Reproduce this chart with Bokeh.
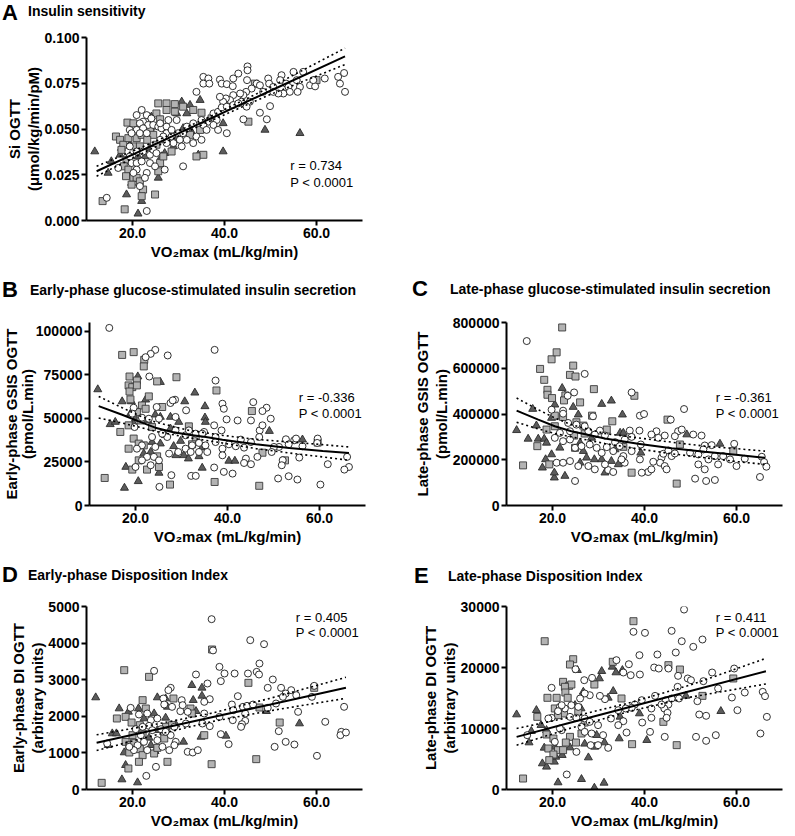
from bokeh.plotting import figure
from bokeh.models import Range1d, FixedTicker, PrintfTickFormatter, Label, Title, Div
from bokeh.layouts import column, row
from bokeh.embed import file_html
from bokeh.resources import INLINE

FONT = "Liberation Sans"

# ---------------- data ----------------
X_TICKS = [20, 40, 60]
X_LABEL = "VO₂max (mL/kg/min)"

# Panel A: insulin sensitivity  (x = VO2max, y = Si OGTT)
A_open = [(45.0, 0.0842), (45.0, 0.0821), (43.0, 0.0803), (41.9, 0.0776), (35.4, 0.0785), (36.5, 0.0776),
          (35.4, 0.0748), (36.7, 0.0748), (39.0, 0.0770), (39.4, 0.0748), (40.5, 0.0745), (41.8, 0.0734),
          (44.9, 0.0767), (47.0, 0.0748), (47.7, 0.0739), (49.5, 0.0776), (49.7, 0.0748), (50.6, 0.0730),
          (52.4, 0.0794), (52.1, 0.0767), (53.4, 0.0748), (53.9, 0.0730), (55.0, 0.0812), (57.1, 0.0812),
          (55.7, 0.0767), (56.4, 0.0730), (55.9, 0.0703), (54.2, 0.0703), (52.8, 0.0694), (51.7, 0.0694),
          (50.6, 0.0703), (48.4, 0.0703), (45.9, 0.0721), (44.7, 0.0703), (44.1, 0.0685), (43.4, 0.0694),
          (41.9, 0.0685), (41.2, 0.0658), (40.3, 0.0667), (39.7, 0.0649), (39.0, 0.0676), (43.7, 0.0649),
          (45.5, 0.0649), (49.9, 0.0625), (47.7, 0.0589), (49.2, 0.0553), (44.1, 0.0553), (40.5, 0.0477),
          (33.9, 0.0703), (37.6, 0.0585), (38.3, 0.0549), (36.5, 0.0540), (35.4, 0.0522), (38.6, 0.0594),
          (39.4, 0.0618), (40.5, 0.0622), (41.9, 0.0631), (43.0, 0.0640), (44.8, 0.0622), (58.6, 0.0739),
          (59.7, 0.0733), (61.8, 0.0776), (64.7, 0.0785), (66.0, 0.0806), (65.1, 0.0748), (66.2, 0.0703),
          (59.3, 0.0767), (31.0, 0.0296), (23.1, 0.0052), (14.4, 0.0124), (22.0, 0.0604), (20.9, 0.0576),
          (23.1, 0.0576), (24.1, 0.0558), (22.3, 0.0540), (21.6, 0.0531), (23.4, 0.0522), (19.4, 0.0495),
          (20.9, 0.0495), (22.3, 0.0504), (19.8, 0.0477), (21.6, 0.0477), (23.1, 0.0477), (24.5, 0.0522),
          (25.6, 0.0513), (26.3, 0.0504), (27.4, 0.0513), (27.4, 0.0477), (28.5, 0.0495), (28.5, 0.0459),
          (29.9, 0.0477), (31.0, 0.0477), (30.3, 0.0441), (31.8, 0.0441), (30.7, 0.0405), (28.9, 0.0423),
          (27.4, 0.0423), (26.7, 0.0459), (26.0, 0.0441), (19.4, 0.0405), (20.9, 0.0377), (22.3, 0.0377),
          (23.8, 0.0359), (24.5, 0.0386), (25.2, 0.0368), (19.4, 0.0350), (16.9, 0.0287), (19.8, 0.0314),
          (20.9, 0.0314), (22.0, 0.0323), (23.8, 0.0314), (24.9, 0.0296), (27.0, 0.0278), (20.9, 0.0278),
          (20.2, 0.0260), (23.1, 0.0260), (21.6, 0.0188), (22.7, 0.0233), (37.6, 0.0522), (38.6, 0.0495),
          (36.1, 0.0495), (33.9, 0.0459), (33.2, 0.0423), (35.0, 0.0441), (31.8, 0.0513), (33.2, 0.0531),
          (35.0, 0.0549), (29.6, 0.0549), (27.8, 0.0549), (26.0, 0.0531)]
A_square = [(25.6, 0.0640), (27.4, 0.0640), (29.2, 0.0636), (27.4, 0.0604), (29.2, 0.0595), (31.0, 0.0622),
            (33.2, 0.0604), (35.0, 0.0589), (18.9, 0.0535), (20.2, 0.0531), (25.2, 0.0585), (26.0, 0.0553),
            (24.1, 0.0513), (16.4, 0.0459), (17.3, 0.0441), (18.0, 0.0414), (19.1, 0.0450), (20.9, 0.0450),
            (22.0, 0.0468), (23.8, 0.0495), (24.5, 0.0468), (17.6, 0.0386), (20.2, 0.0405), (21.6, 0.0405),
            (23.2, 0.0441), (25.2, 0.0414), (18.7, 0.0332), (18.1, 0.0296), (19.1, 0.0278), (18.6, 0.0242),
            (20.2, 0.0233), (20.9, 0.0233), (21.6, 0.0214), (19.8, 0.0196), (22.3, 0.0169), (22.0, 0.0133),
            (24.9, 0.0142), (13.5, 0.0106), (18.3, 0.0061), (26.0, 0.0314), (26.7, 0.0350), (25.6, 0.0269),
            (35.4, 0.0359), (33.9, 0.0350), (28.5, 0.0377), (32.5, 0.0468), (34.7, 0.0495), (37.2, 0.0558),
            (37.9, 0.0576), (45.2, 0.0540), (46.6, 0.0748), (60.0, 0.0767)]
A_triangle = [(30.7, 0.0649), (34.7, 0.0658), (32.5, 0.0631), (31.8, 0.0585), (29.6, 0.0585), (24.1, 0.0567),
              (11.8, 0.0377), (15.4, 0.0323), (14.7, 0.0260), (17.6, 0.0396), (19.4, 0.0414), (21.2, 0.0350),
              (22.7, 0.0350), (23.8, 0.0396), (25.6, 0.0233), (18.7, 0.0142), (19.8, 0.0205), (22.0, 0.0106),
              (21.2, 0.0037), (26.3, 0.0350), (27.0, 0.0368), (28.9, 0.0405), (29.2, 0.0441), (31.0, 0.0504),
              (32.8, 0.0486), (35.7, 0.0495), (34.3, 0.0359), (39.7, 0.0531), (39.7, 0.0377), (48.8, 0.0495),
              (56.4, 0.0477), (17.3, 0.0359)]
A_fit_x = [12.2, 24.0, 36.0, 50.0, 66.2]
A_fit_y = [0.0269, 0.0406, 0.0546, 0.0709, 0.0897]
A_fit_hi = [0.0296, 0.0422, 0.0558, 0.0729, 0.0942]
A_fit_lo = [0.0242, 0.0390, 0.0534, 0.0689, 0.0852]

# Panel B: early-phase GSIS
B_open = [(14.3, 101900), (24.3, 89300), (23.3, 87000), (22.2, 85100), (27.0, 86100), (37.2, 89300),
          (37.4, 71700), (23.0, 74000), (28.6, 60700), (27.6, 58800), (31.0, 54600), (38.9, 58400),
          (39.2, 55500), (45.6, 59300), (48.5, 56100), (47.6, 54200), (49.4, 49800), (45.1, 48800),
          (42.2, 48800), (39.8, 49400), (24.6, 56500), (19.6, 56100), (19.3, 52700), (21.4, 50400),
          (22.9, 49800), (25.1, 49800), (19.8, 45000), (37.1, 46000), (38.7, 43100), (47.0, 43100),
          (47.6, 46000), (46.9, 39300), (52.7, 38000), (54.5, 37400), (53.3, 35100), (51.2, 33600),
          (50.1, 33600), (56.3, 34000), (59.6, 38400), (59.5, 35900), (42.9, 37800), (45.1, 36400),
          (43.6, 33200), (41.8, 34000), (40.3, 35100), (38.9, 32600), (38.9, 28800), (44.0, 26900),
          (43.6, 24400), (45.1, 23700), (46.5, 27900), (52.0, 26000), (51.8, 23100), (49.6, 30700),
          (55.6, 27500), (61.8, 23700), (66.0, 27900), (66.4, 22100), (65.4, 20600), (39.2, 19300),
          (41.1, 18300), (37.1, 21800), (51.0, 15500), (53.3, 16800), (55.2, 14900), (60.2, 12000),
          (32.1, 17000), (33.1, 17000), (27.8, 17400), (25.2, 10700), (27.3, 29800), (29.3, 30700),
          (30.9, 32600), (32.3, 34500), (33.8, 35900), (35.2, 34500), (35.6, 30700), (33.8, 30700),
          (32.0, 30700), (30.9, 40300), (31.6, 43100), (33.1, 41200), (34.9, 42200), (28.7, 43100),
          (26.9, 39300), (25.8, 41200), (23.6, 39300), (21.4, 34500), (20.3, 32600), (22.5, 27900),
          (21.4, 25900), (24.0, 27900), (25.1, 25900), (23.3, 23100), (20.0, 22100), (24.3, 33600),
          (28.7, 50800), (28.1, 60300), (34.5, 41200), (37.4, 39300), (37.4, 36400), (54.9, 38400)]
B_square = [(17.1, 86400), (19.6, 88000), (21.9, 83600), (21.8, 79800), (24.7, 71200), (28.9, 73600),
            (37.6, 66000), (18.7, 74000), (20.3, 71700), (18.5, 68900), (19.3, 67900), (20.3, 68900),
            (22.9, 62600), (18.7, 65400), (18.9, 60900), (21.4, 57400), (22.2, 55500), (25.8, 56500),
            (20.3, 53600), (21.1, 48800), (16.7, 42200), (18.5, 46000), (23.6, 45000), (19.6, 38400),
            (20.7, 35500), (21.8, 34500), (18.5, 32600), (31.6, 45400), (33.1, 38900), (32.3, 35100),
            (20.7, 25900), (22.5, 20600), (19.3, 20600), (13.3, 15800), (27.5, 12000), (37.2, 13500),
            (46.9, 11300), (45.3, 54200), (47.6, 30300), (52.5, 25900), (59.6, 36100), (24.7, 28200),
            (25.1, 22100)]
B_triangle = [(11.8, 66600), (14.5, 46600), (15.6, 47900), (17.1, 59700), (19.1, 59700), (20.5, 74000),
              (25.4, 70800), (22.2, 60700), (32.9, 64700), (30.7, 59700), (35.1, 56900), (35.1, 50400),
              (35.2, 47900), (18.9, 52700), (20.0, 49800), (19.6, 46900), (22.7, 48800), (24.3, 52100),
              (25.4, 50800), (27.6, 50800), (29.4, 47900), (27.6, 44100), (26.5, 40300), (25.4, 35500),
              (23.3, 30700), (21.8, 29800), (23.6, 36400), (28.3, 34000), (29.8, 37000), (30.5, 28800),
              (28.8, 28800), (31.5, 26900), (33.8, 28200), (34.5, 33200), (40.3, 25600), (41.6, 25600),
              (49.1, 42700), (56.3, 37800), (34.5, 21600), (25.1, 18700), (17.9, 22100), (20.6, 13900),
              (17.6, 10100)]
B_fit_x = [12.0, 17.1, 20.7, 24.3, 28.0, 31.6, 35.3, 38.9, 46.2, 53.4, 60.7, 66.4]
B_fit_y = [57050, 52090, 48270, 44650, 42170, 40640, 39300, 37780, 35110, 33010, 31290, 30150]
B_ci_x = [12.0, 17.1, 20.7, 24.3, 31.6, 38.9, 46.2, 53.4, 60.7, 66.4]
B_fit_hi = [62580, 56100, 51710, 47890, 43120, 40260, 37970, 36440, 34920, 33580]
B_fit_lo = [50180, 47320, 45030, 42550, 38920, 35870, 32630, 30150, 27860, 25950]

# Panel C: late-phase GSIS
C_open = [(14.4, 718900), (27.0, 575400), (24.7, 494200), (23.3, 479700), (37.2, 494200), (39.0, 392800),
          (39.9, 400000), (48.6, 421700), (45.7, 375400), (28.8, 390000), (22.3, 414500), (19.8, 418800),
          (22.3, 401500), (42.6, 324600), (44.4, 305800), (47.3, 324600), (48.1, 331900), (50.6, 310200),
          (52.4, 305800), (46.6, 302900), (43.0, 295700), (53.1, 262300), (54.6, 263800), (59.5, 269600),
          (39.2, 266700), (41.5, 310200), (36.8, 327500), (38.9, 327500), (37.2, 300000), (35.7, 288400),
          (33.6, 276800), (34.6, 259400), (31.4, 305800), (30.3, 327500), (29.2, 310200), (27.8, 324600),
          (27.0, 346400), (25.2, 353600), (23.8, 324600), (23.4, 360900), (21.6, 317400), (20.5, 295700),
          (22.3, 281200), (23.8, 288400), (24.9, 252200), (26.3, 259400), (28.1, 266700), (29.6, 252200),
          (31.8, 255100), (30.7, 230400), (33.2, 237700), (35.4, 216000), (37.2, 237700), (39.0, 201500),
          (41.9, 191300), (43.7, 208700), (43.4, 187000), (44.4, 172500), (44.8, 158000), (44.1, 226100),
          (45.2, 240600), (45.9, 216000), (46.6, 227500), (49.9, 230400), (51.7, 223200), (52.8, 244900),
          (53.9, 201500), (55.3, 216000), (56.0, 179700), (57.1, 216000), (58.6, 201500), (60.0, 172500),
          (61.8, 204300), (65.5, 213000), (66.0, 189900), (66.5, 169600), (65.1, 124600), (51.7, 179700),
          (53.1, 158000), (51.0, 117400), (53.4, 107200), (55.3, 111600), (24.9, 107200), (20.9, 187000),
          (22.3, 187000), (23.8, 194200), (25.6, 172500), (27.8, 172500), (29.2, 158000), (32.1, 155100),
          (33.2, 146400), (35.7, 187000), (31.4, 179700), (40.8, 146400), (39.4, 143500), (41.5, 158000),
          (35.0, 201500)]
C_square = [(22.1, 778300), (17.3, 597100), (18.2, 549300), (19.8, 639100), (20.9, 669600), (24.5, 611600),
            (23.8, 571000), (25.0, 563800), (18.9, 505800), (18.9, 484100), (19.9, 469600), (22.8, 481100),
            (22.5, 459400), (26.0, 450700), (29.0, 508700), (28.6, 392800), (37.8, 479700), (20.5, 392800),
            (20.5, 346400), (22.3, 387000), (25.2, 363800), (26.7, 349300), (27.0, 314500), (24.7, 305800),
            (31.8, 331900), (33.0, 368100), (18.7, 331900), (16.7, 259400), (19.3, 179700), (24.9, 252200),
            (35.4, 256500), (37.2, 143500), (13.6, 175400), (47.0, 95700), (47.7, 266700), (59.3, 237700),
            (45.0, 375400)]
C_triangle = [(12.2, 329000), (14.7, 291300), (15.7, 421700), (16.5, 349300), (16.9, 291300), (18.2, 291300),
              (17.8, 165200), (18.5, 201500), (19.8, 382600), (20.5, 440600), (22.1, 513100), (22.7, 479700),
              (18.7, 273900), (19.8, 223200), (20.4, 121700), (22.7, 129000), (20.4, 143500), (24.5, 430400),
              (25.6, 397100), (30.7, 443500), (32.8, 458000), (35.2, 397100), (21.6, 252200), (26.0, 273900),
              (26.7, 237700), (27.4, 208700), (26.0, 187000), (29.1, 201500), (30.7, 201500), (31.4, 143500),
              (32.8, 194200), (33.6, 244900), (34.3, 179700), (34.7, 317400), (35.4, 317400), (39.2, 230400),
              (49.2, 310200), (56.4, 269600), (28.5, 295700)]
C_fit_x = [12.2, 16.9, 20.5, 24.1, 31.4, 38.6, 45.9, 53.1, 60.4, 66.2]
C_fit_y = [414500, 375400, 346400, 324600, 292800, 269600, 250700, 234800, 220300, 208700]
C_fit_hi = [469600, 418800, 382600, 353600, 314500, 295700, 276800, 259400, 247800, 237700]
C_fit_lo = [363800, 334800, 314500, 300000, 271000, 247800, 226100, 208700, 191300, 179700]

# Panel D: early-phase disposition index
D_open = [(37.2, 4654), (45.6, 4080), (48.6, 3971), (24.7, 3242), (33.8, 3142), (38.9, 3351), (40.0, 3169),
          (42.2, 3169), (45.1, 3169), (47.6, 3442), (47.0, 3215), (47.5, 3142), (39.2, 2960), (36.3, 2896),
          (28.3, 2778), (27.8, 2714), (26.7, 2486), (50.5, 3005), (49.4, 2778), (52.3, 2778), (54.5, 2714),
          (53.3, 2623), (52.7, 2532), (55.6, 2577), (59.5, 2832), (59.0, 2532), (56.0, 2122), (51.2, 2350),
          (42.9, 2550), (41.6, 2322), (41.9, 2167), (44.0, 2258), (44.9, 2286), (46.2, 2322), (49.4, 2231),
          (44.5, 2076), (44.5, 1876), (43.8, 1785), (43.6, 1712), (41.8, 1894), (38.9, 1985), (36.8, 2468),
          (35.6, 2395), (35.6, 2076), (36.8, 1730), (35.2, 1803), (39.2, 1512), (40.9, 1239), (32.0, 2122),
          (28.6, 2258), (26.9, 2322), (30.4, 2140), (31.6, 1803), (29.1, 1712), (28.3, 1484), (29.4, 1302),
          (28.0, 1075), (32.0, 1029), (33.1, 1011), (34.2, 1075), (25.1, 619), (23.0, 373), (19.6, 2231),
          (21.4, 2049), (23.2, 2076), (24.0, 1894), (25.4, 1940), (23.6, 1739), (22.2, 1712), (20.7, 1648),
          (21.8, 1484), (24.3, 1621), (26.2, 1648), (27.2, 1576), (25.4, 1348), (22.5, 1302), (21.1, 1211),
          (20.3, 1075), (23.2, 1075), (26.5, 1166), (29.1, 1211), (14.5, 1257), (19.3, 1166), (50.9, 1166),
          (53.3, 1302), (55.2, 1229), (51.8, 1594), (60.1, 920), (61.9, 1849), (65.4, 1576), (65.2, 1484),
          (66.4, 1557), (66.0, 2259), (30.7, 2441), (30.9, 2304), (37.5, 3800)]
D_square = [(18.2, 3260), (23.6, 3078), (37.3, 3825), (45.2, 2914), (59.5, 2778), (52.0, 1830), (46.9, 829),
            (37.2, 692), (27.6, 756), (22.2, 2441), (22.9, 2213), (28.9, 2486), (32.6, 2213), (32.9, 2076),
            (16.6, 1940), (18.5, 1985), (19.8, 1830), (21.6, 1758), (22.2, 1530), (20.0, 1484), (18.5, 1302),
            (19.3, 1211), (20.3, 1275), (21.6, 1102), (19.3, 1011), (22.2, 938), (24.7, 984), (25.4, 1138),
            (26.9, 1393), (27.3, 1712), (21.4, 756), (19.1, 574), (13.3, 182), (35.6, 1484), (47.6, 2240),
            (28.6, 1758)]
D_triangle = [(12.0, 2514), (15.6, 1530), (16.5, 1530), (14.7, 1211), (17.1, 2213), (19.1, 2122), (21.3, 2213),
              (25.4, 2514), (27.2, 2486), (27.6, 2258), (32.9, 2850), (35.1, 2778), (35.1, 2559), (33.2, 2441),
              (33.8, 2140), (24.7, 2076), (27.2, 1958), (29.4, 1776), (25.4, 1621), (23.6, 1412), (24.0, 1211),
              (29.3, 1284), (31.1, 1302), (34.9, 1439), (18.2, 1011), (18.5, 665), (17.7, 273), (21.1, 191),
              (24.9, 1047), (49.1, 2140), (56.3, 1803), (40.3, 1466), (22.5, 1940)]
D_fit_x = [12.2, 24.0, 37.0, 50.0, 66.4]
D_fit_y = [1280, 1606, 1965, 2324, 2778]
D_fit_hi = [1495, 1756, 2080, 2494, 3065]
D_fit_lo = [1065, 1456, 1850, 2154, 2491]

# Panel E: late-phase disposition index
E_open = [(48.6, 29500), (37.6, 25850), (40.1, 25680), (45.9, 26010), (48.1, 24310), (50.6, 23390),
          (52.6, 24590), (46.8, 22460), (38.9, 22020), (42.8, 22130), (33.9, 21200), (36.6, 20540),
          (35.4, 19180), (37.0, 18740), (39.0, 18850), (42.1, 20000), (43.1, 19830), (45.2, 19830),
          (47.3, 18630), (49.4, 18200), (50.1, 17920), (52.8, 17760), (54.7, 19180), (56.0, 16560),
          (59.5, 19830), (61.8, 15900), (59.0, 15080), (60.2, 13000), (65.7, 16010), (66.2, 15300),
          (66.6, 11910), (65.2, 9180), (51.5, 14480), (51.9, 12290), (53.4, 12080), (55.5, 8910),
          (53.4, 7980), (51.2, 8630), (47.2, 16830), (47.5, 14920), (45.9, 14920), (44.6, 14640),
          (45.2, 13930), (44.3, 13280), (45.0, 12570), (44.8, 11750), (44.4, 8630), (41.5, 13280),
          (41.5, 11750), (39.5, 10980), (41.2, 9450), (39.4, 14640), (42.3, 15350), (43.7, 13930),
          (37.9, 13930), (37.2, 13390), (35.9, 13280), (34.3, 13000), (35.4, 11200), (34.3, 10550),
          (36.1, 9340), (32.7, 11640), (31.4, 14810), (30.3, 15350), (28.6, 18300), (26.9, 17920),
          (28.1, 15460), (27.0, 15740), (25.0, 19720), (26.0, 14920), (25.6, 13550), (24.1, 13820),
          (22.7, 13280), (21.6, 13550), (21.2, 12840), (22.0, 13820), (19.8, 16670), (23.8, 11910),
          (25.2, 11750), (27.0, 11640), (28.1, 11090), (26.3, 10270), (27.0, 9450), (28.5, 9180),
          (29.9, 10550), (31.0, 8910), (29.9, 7270), (32.1, 6830), (28.3, 7270), (25.2, 6170),
          (19.8, 11750), (19.1, 11640), (14.5, 8910), (20.5, 7810), (22.0, 9730), (23.1, 2460),
          (21.6, 10000)]
E_square = [(18.3, 24310), (37.6, 27590), (24.5, 21360), (23.8, 20490), (33.1, 20930), (45.2, 20380),
            (47.7, 19670), (59.3, 18200), (22.3, 17650), (23.6, 16990), (24.1, 17210), (22.7, 16830),
            (29.1, 17210), (22.8, 15900), (23.3, 15030), (18.9, 15030), (20.9, 15030), (20.5, 13280),
            (16.7, 11910), (22.5, 12460), (21.2, 12190), (25.6, 12730), (35.0, 14920), (52.6, 15350),
            (44.1, 11090), (37.3, 7430), (47.0, 7270), (18.7, 9020), (20.2, 8360), (26.3, 9180),
            (23.8, 8630), (22.9, 7700), (25.1, 7700), (19.1, 6720), (21.2, 6450), (20.2, 5740),
            (22.3, 6450), (19.3, 4810), (13.6, 1800), (27.0, 10980)]
E_triangle = [(12.2, 12290), (16.5, 13000), (17.5, 10550), (15.4, 9560), (14.9, 7700), (18.7, 9730),
              (20.5, 6990), (18.2, 6830), (17.8, 4260), (18.7, 3720), (20.4, 4540), (20.7, 5350),
              (22.1, 5630), (23.8, 6880), (27.0, 7490), (27.8, 5240), (29.2, 6990), (29.6, 8910),
              (31.3, 7700), (21.2, 1150), (26.3, 1690), (29.1, 270), (31.2, 1090), (25.4, 19560),
              (30.7, 19400), (30.2, 18200), (33.0, 20110), (33.8, 19180), (35.2, 19560), (33.2, 16120),
              (26.7, 16010), (24.9, 13820), (26.2, 13280), (32.1, 15030), (34.7, 11910), (34.5, 8360),
              (38.9, 12460), (40.5, 8090), (49.0, 15350), (56.6, 12840)]
E_fit_x = [12.2, 24.0, 37.0, 50.0, 66.4]
E_fit_y = [8630, 10975, 13560, 16140, 19400]
E_fit_hi = [10000, 11875, 14260, 17140, 21500]
E_fit_lo = [7260, 10075, 12860, 15140, 17300]

# ---------------- styling ----------------
OPEN_FILL, OPEN_LINE = "white", "#1a1a1a"
SQ_FILL, SQ_LINE = "#b3b3b3", "#3a3a3a"
TRI_FILL, TRI_LINE = "#5c5c5c", "#2a2a2a"
PAGE_W = 786


def split(pts):
    return [p[0] for p in pts], [p[1] for p in pts]


def header(height, entries):
    """A strip holding the panel letters and panel titles (positions in pixels)."""
    spans = []
    for lx, ltop, tx, ttop, letter, title in entries:
        spans.append(
            f'<span style="position:absolute;left:{lx}px;top:{ltop}px;font-size:22px;line-height:24px;">{letter}</span>'
            f'<span style="position:absolute;left:{tx}px;top:{ttop}px;font-size:14px;line-height:16px;'
            f'white-space:nowrap;">{title}</span>')
    html = (f'<div style="position:relative;width:{PAGE_W}px;height:{height}px;overflow:visible;'
            f"font-family:'{FONT}',Arial,sans-serif;font-weight:bold;color:black;\">"
            + "".join(spans) + "</div>")
    return Div(text=html, width=PAGE_W, height=height, margin=(0, 0, 0, 0))


def panel(ylab1, ylab2, ymax, yticks, yfmt, opn, sq, tri, fx, fy, cx, hi, lo,
          r_txt, r_x, r_y, p_y, bl, br, bt, bb, inner_standoff=0):
    p = figure(frame_width=276, frame_height=183, x_range=Range1d(10, 70), y_range=Range1d(0, ymax),
               output_backend="svg", toolbar_location=None, title=None,
               min_border_left=bl, min_border_right=br, min_border_top=bt, min_border_bottom=bb)
    p.outline_line_color = None
    p.grid.visible = False
    p.background_fill_color = "white"
    p.border_fill_color = "white"
    for ax in (p.xaxis[0], p.yaxis[0]):
        ax.axis_line_width = 2
        ax.axis_line_color = "black"
        ax.major_tick_line_width = 2
        ax.major_tick_line_color = "black"
        ax.major_tick_out = 5
        ax.major_tick_in = 0
        ax.minor_tick_line_color = None
        ax.major_label_text_font = FONT
        ax.major_label_text_font_size = "14px"
        ax.major_label_text_font_style = "bold"
        ax.major_label_text_color = "black"
        ax.axis_label_text_font = FONT
        ax.axis_label_text_font_size = "15px"
        ax.axis_label_text_font_style = "bold"
        ax.axis_label_text_color = "black"
        ax.major_label_standoff = 2
        ax.axis_label_standoff = 2
    p.xaxis.ticker = FixedTicker(ticks=X_TICKS)
    p.xaxis.formatter = PrintfTickFormatter(format="%.1f")
    p.xaxis.axis_label = X_LABEL
    p.yaxis.ticker = FixedTicker(ticks=yticks)
    p.yaxis.formatter = PrintfTickFormatter(format=yfmt)
    # two-line y label: inner line first, outer line second
    for txt, so in ((ylab2, inner_standoff), (ylab1, 0)):
        p.add_layout(Title(text=txt, align="center", text_font=FONT, text_font_size="15px",
                           text_font_style="bold", text_color="black", standoff=so), "left")

    x, y = split(tri)
    p.scatter(x, y, marker="triangle", size=8, fill_color=TRI_FILL, line_color=TRI_LINE, line_width=0.9)
    x, y = split(sq)
    p.scatter(x, y, marker="square", size=7, fill_color=SQ_FILL, line_color=SQ_LINE, line_width=0.9)
    x, y = split(opn)
    p.scatter(x, y, marker="circle", size=7, fill_color=OPEN_FILL, line_color=OPEN_LINE, line_width=0.9)

    p.line(fx, fy, line_color="black", line_width=2)
    p.line(cx, hi, line_color="black", line_width=1.6, line_dash="2 3")
    p.line(cx, lo, line_color="black", line_width=1.6, line_dash="2 3")

    for txt, yy in ((r_txt, r_y), ("P < 0.0001", p_y)):
        p.add_layout(Label(x=r_x, y=yy, text=txt, text_font=FONT, text_font_size="13px",
                           text_baseline="middle", text_color="black"))
    return p


h1 = header(30, [(2, 1, 28, 3, "A", "Insulin sensitivity")])
pA = panel("Si OGTT", "(μmol/kg/min/pM)", 0.1, [0, 0.025, 0.05, 0.075, 0.1], "%.3f",
           A_open, A_square, A_triangle, A_fit_x, A_fit_y, A_fit_x, A_fit_hi, A_fit_lo,
           "r = 0.734", 54.3, 0.0301, 0.0208, 86, 52, 7, 50)
h2 = header(40, [(2, 8, 30, 12, "B", "Early-phase glucose-stimulated insulin secretion"),
                 (412, 7, 450, 11, "C", "Late-phase glucose-stimulated insulin secretion")])
pB = panel("Early-phase GSIS OGTT", "(pmol/L.min)", 105000, [0, 25000, 50000, 75000, 100000], "%d",
           B_open, B_square, B_triangle, B_fit_x, B_fit_y, B_ci_x, B_fit_hi, B_fit_lo,
           "r = -0.336", 55.5, 62000, 52800, 86, 46, 12, 44, inner_standoff=-6)
pC = panel("Late-phase GSIS OGTT", "(pmol/L.min)", 800000, [0, 200000, 400000, 600000, 800000], "%d",
           C_open, C_square, C_triangle, C_fit_x, C_fit_y, C_fit_x, C_fit_hi, C_fit_lo,
           "r = -0.361", 55.5, 472000, 402000, 94, 2, 12, 44)
h3 = header(39, [(2, 14, 28, 18, "D", "Early-phase Disposition Index"),
                 (414, 15, 448, 19, "E", "Late-phase Disposition Index")])
pD = panel("Early-phase DI OGTT", "(arbitrary units)", 5000, [0, 1000, 2000, 3000, 4000, 5000], "%d",
           D_open, D_square, D_triangle, D_fit_x, D_fit_y, D_fit_x, D_fit_hi, D_fit_lo,
           "r = 0.405", 55.5, 4700, 4290, 86, 50, 18, 40)
pE = panel("Late-phase DI OGTT", "(arbitrary units)", 30000, [0, 10000, 20000, 30000], "%d",
           E_open, E_square, E_triangle, E_fit_x, E_fit_y, E_fit_x, E_fit_hi, E_fit_lo,
           "r = 0.411", 55.5, 28200, 25740, 94, 2, 18, 40)

layout = column(h1, pA, h2, row(pB, pC), h3, row(pD, pE))
open("out.html", "w").write(file_html(layout, INLINE))
